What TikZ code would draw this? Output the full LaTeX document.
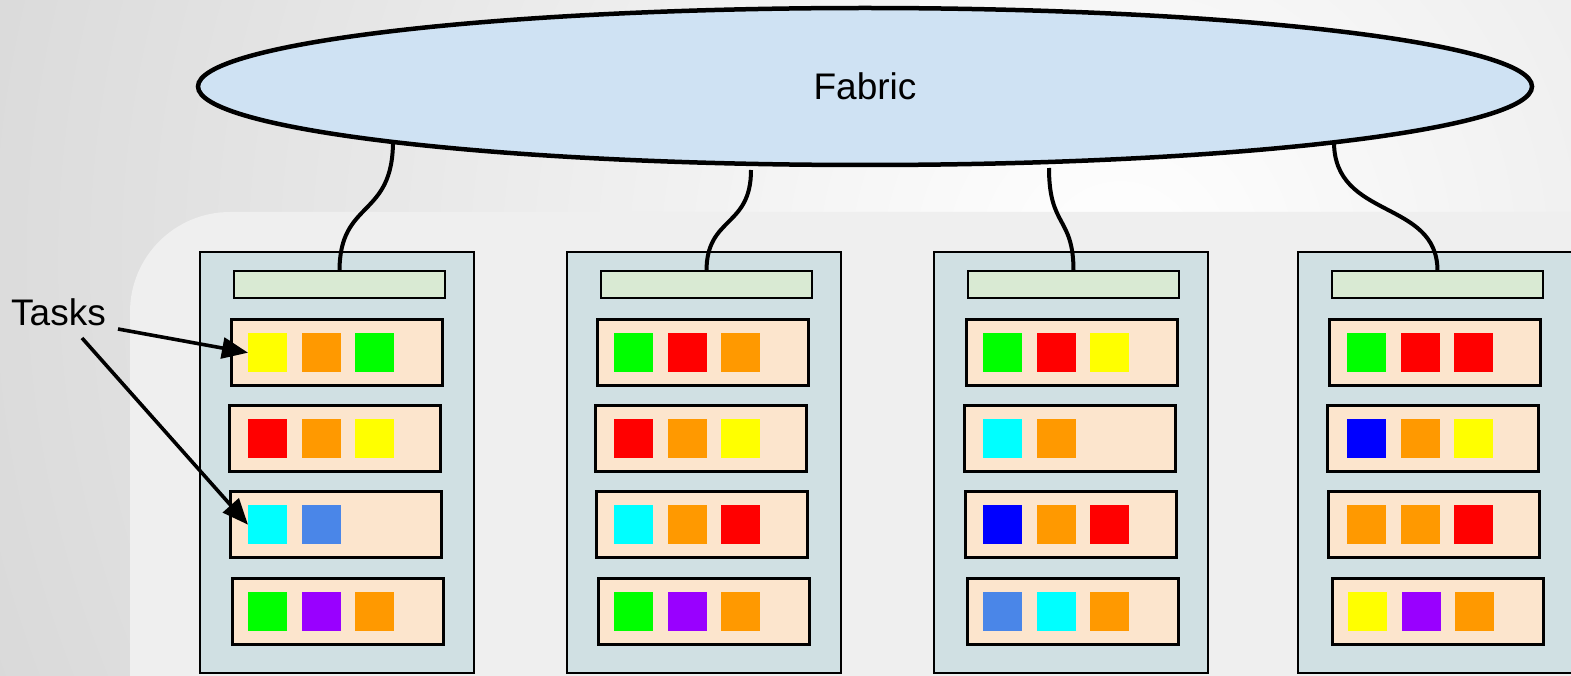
\documentclass[tikz,border=0pt]{standalone}
\usepackage{fontspec}
\setmainfont{Liberation Sans}
\usetikzlibrary{shapes.geometric,arrows.meta}
\definecolor{bgL}{HTML}{D6D6D6}
\definecolor{panel}{HTML}{EFEFEF}
\definecolor{scol}{HTML}{D0E0E3}
\definecolor{bcol}{HTML}{D9EAD3}
\definecolor{rcol}{HTML}{FCE5CD}
\definecolor{ecol}{HTML}{CFE2F3}
\definecolor{tyellow}{HTML}{FFFF00}
\definecolor{torange}{HTML}{FF9900}
\definecolor{tgreen}{HTML}{00FF00}
\definecolor{tred}{HTML}{FF0000}
\definecolor{tcyan}{HTML}{00FFFF}
\definecolor{tcorn}{HTML}{4A86E8}
\definecolor{tpurple}{HTML}{9900FF}
\definecolor{tblue}{HTML}{0000FF}
\newcommand\taskrow[5]{%
  \node[trow] (#1) at (#2,#3) {};
  \foreach \c [count=\k] in {#5}{\node[task,fill=\c] (#1q\k) at (#4+53.5*\k-53.5,#3+15) {};}
}
\begin{document}
\begin{tikzpicture}[x=1pt,y=-1pt,
  server/.style={draw, line width=2.5pt, fill=scol, minimum width=274pt, minimum height=421pt, anchor=north west, inner sep=0pt, outer sep=0pt},
  bar/.style={draw, line width=2.5pt, fill=bcol, minimum width=211pt, minimum height=27pt, anchor=north west, inner sep=0pt, outer sep=0pt},
  trow/.style={draw, line width=3pt, fill=rcol, minimum width=211pt, minimum height=66pt, anchor=north west, inner sep=0pt},
  task/.style={minimum size=39pt, anchor=north west, inner sep=0pt},
  wire/.style={line width=4pt},
  arr/.style={line width=3.6pt, -{Triangle[length=26pt,width=21pt]}},
  big/.style={font=\fontsize{37}{44}\selectfont}]
\useasboundingbox (0,0) rectangle (1571,676);
\begin{scope}
\clip (0,0) rectangle (1571,676);
\fill[bgL] (0,0) rectangle (1571,676);
\shade[inner color=white, outer color=bgL] (1120,260) circle (1300);
\fill[panel, rounded corners=100pt] (130,212) rectangle (1680,800);

\foreach \s/\sx in {1/200,2/567,3/934,4/1298}{
  \node[server] (s\s) at (\sx,252) {};
  \node[bar] (b\s) at (\sx+34,271) {};
}

\taskrow{r11}{230}{318}{248}{tyellow,torange,tgreen}
\taskrow{r12}{228}{404}{248}{tred,torange,tyellow}
\taskrow{r13}{229}{490}{248}{tcyan,tcorn}
\taskrow{r14}{231}{577}{248}{tgreen,tpurple,torange}

\taskrow{r21}{596}{318}{614}{tgreen,tred,torange}
\taskrow{r22}{594}{404}{614}{tred,torange,tyellow}
\taskrow{r23}{595}{490}{614}{tcyan,torange,tred}
\taskrow{r24}{597}{577}{614}{tgreen,tpurple,torange}

\taskrow{r31}{965}{318}{983}{tgreen,tred,tyellow}
\taskrow{r32}{963}{404}{983}{tcyan,torange}
\taskrow{r33}{964}{490}{983}{tblue,torange,tred}
\taskrow{r34}{966}{577}{983}{tcorn,tcyan,torange}

\taskrow{r41}{1328}{318}{1347}{tgreen,tred,tred}
\taskrow{r42}{1326}{404}{1347}{tblue,torange,tyellow}
\taskrow{r43}{1327}{490}{1347}{torange,torange,tred}
\taskrow{r44}{1331}{577}{1348}{tyellow,tpurple,torange}

\node[ellipse, draw, line width=4.5pt, fill=ecol, minimum width=1334pt, minimum height=157pt, inner sep=0pt, big] (fabric) at (865,86.5) {Fabric};

\coordinate (c1) at (393,141);
\coordinate (c2) at (751,170);
\coordinate (c3) at (1049,168);
\coordinate (c4) at (1334,142);
\draw[wire] (c1) .. controls +(0,78) and +(0,-72) .. (b1.north);
\draw[wire] (c2) .. controls +(0,58) and +(0,-55) .. (b2.north);
\draw[wire] (c3) .. controls +(0,60) and +(0,-55) .. (b3.north);
\draw[wire] (c4) .. controls +(0,78) and +(0,-72) .. (b4.north);

\node[anchor=base west, inner sep=0pt, big] (tasks) at (11,325) {Tasks};
\coordinate (t1) at (118,329);
\coordinate (t2) at (82,338);
\draw[arr] (t1) -- (r11q1.west);
\draw[arr] (t2) -- (r13q1.west);
\end{scope}
\end{tikzpicture}
\end{document}
